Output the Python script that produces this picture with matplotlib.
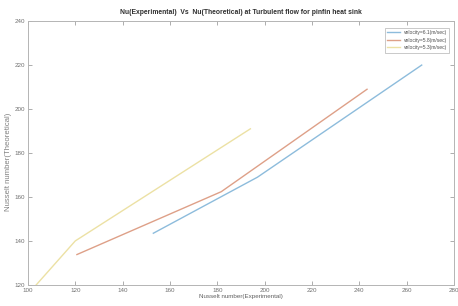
import matplotlib
matplotlib.use("Agg")
import matplotlib.pyplot as plt

plt.rcParams['font.family'] = ['Liberation Sans', 'DejaVu Sans']

# Data
nu_exp_v61 = [153, 197, 266.4]
nu_th_v61 = [143.5, 169, 220]
nu_exp_v58 = [120.7, 181.7, 243.3]
nu_th_v58 = [133.8, 162.4, 209]
nu_exp_v53 = [103.5, 120, 194]
nu_th_v53 = [120, 140, 191]
labels = ["velocity=6.1(m/sec)", "velocity=5.8(m/sec)", "velocity=5.3(m/sec)"]
xticks = [100, 120, 140, 160, 180, 200, 220, 240, 260, 280]
yticks = [120, 140, 160, 180, 200, 220, 240]

fig = plt.figure(figsize=(4.58, 3.06), dpi=100)
ax = fig.add_axes([0.061, 0.069, 0.930, 0.862])

ax.plot(nu_exp_v61, nu_th_v61, color="#8dbcdc", lw=1.0, label=labels[0])
ax.plot(nu_exp_v58, nu_th_v58, color="#dea088", lw=1.0, label=labels[1])
ax.plot(nu_exp_v53, nu_th_v53, color="#ece1a4", lw=1.0, label=labels[2])

ax.set_xlim(100, 280)
ax.set_ylim(120, 240)
ax.set_xticks(xticks)
ax.set_yticks(yticks)
ax.tick_params(direction="in", length=3, width=0.6, labelsize=4.5,
               colors="#a0a0a0", labelcolor="#707070",
               top=True, right=True, pad=2)
for s in ax.spines.values():
    s.set_color("#b4b4b4")
    s.set_linewidth(0.7)

ax.set_title("Nu(Experimental)  Vs  Nu(Theoretical) at Turbulent flow for pinfin heat sink",
             fontsize=4.9, fontweight="bold", color="#303030", pad=5)
ax.set_xlabel("Nusselt number(Experimental)", fontsize=4.5, color="#606060", labelpad=1)
ax.set_ylabel("Nusselt number(Theoretical)", fontsize=5.6, color="#808080", labelpad=4)
ax.yaxis.set_label_coords(-0.037, 0.466)

leg = ax.legend(loc="upper right", fontsize=3.6, frameon=True, fancybox=False,
                borderpad=0.5, handlelength=2.6, handletextpad=0.6, labelspacing=0.5,
                bbox_to_anchor=(0.995, 0.985))
leg.get_frame().set_edgecolor("#a0a0a0")
leg.get_frame().set_linewidth(0.5)
for t in leg.get_texts():
    t.set_color("#505050")

fig.savefig("out.png", dpi=100, facecolor="white")
